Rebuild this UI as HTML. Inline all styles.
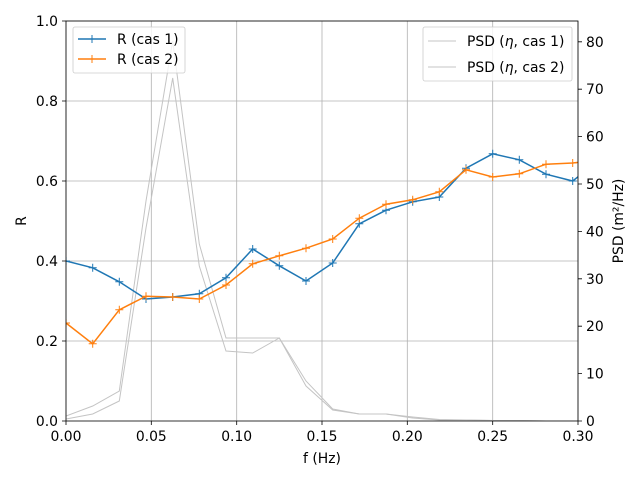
<!DOCTYPE html>
<html><head><meta charset="utf-8"><style>
body{margin:0;background:#fff}
text{font-family:"DejaVu Sans","Liberation Sans",sans-serif;font-size:13.9px;fill:#000}
</style></head><body>
<svg width="640" height="480" viewBox="0 0 640 480" xmlns="http://www.w3.org/2000/svg">
<defs>
<clipPath id="c"><rect x="66" y="21" width="512" height="400"/></clipPath>
<path id="m" d="M-4,0H4M0,-4V4" stroke-width="1"/>
</defs>
<rect width="640" height="480" fill="#fff"/>
<g stroke="#b0b0b0" stroke-width="0.8">
<line x1="66" y1="21" x2="66" y2="421"/><line x1="151.3" y1="21" x2="151.3" y2="421"/><line x1="236.7" y1="21" x2="236.7" y2="421"/><line x1="322" y1="21" x2="322" y2="421"/><line x1="407.3" y1="21" x2="407.3" y2="421"/><line x1="492.7" y1="21" x2="492.7" y2="421"/><line x1="578" y1="21" x2="578" y2="421"/>
<line x1="66" y1="341" x2="578" y2="341"/><line x1="66" y1="261" x2="578" y2="261"/><line x1="66" y1="181" x2="578" y2="181"/><line x1="66" y1="101" x2="578" y2="101"/><line x1="66" y1="21" x2="578" y2="21"/>
</g>
<g clip-path="url(#c)" fill="none">
<polyline stroke="#c4c4c4" stroke-width="1" points="66,416 92.7,406 119.3,391 146,201 172.7,41 199.3,244 226,338 252.7,338 279.3,338 306,381 332.7,409 359.3,414 386,414 412.7,417 439.3,419.5 466,420 492.7,420.5 519.3,420.5 546,421 578,421"/>
<polyline stroke="#c4c4c4" stroke-width="1" points="66,419 92.7,414 119.3,401 146,228 172.7,78 199.3,266 226,351 252.7,353 279.3,338 306,386 332.7,410 359.3,414 386,414 412.7,418 439.3,420 466,420 492.7,420.5 519.3,420.5 546,421 578,421"/>
<g stroke="#1f77b4" stroke-width="1.5">
<polyline points="66,261 92.7,267.8 119.3,281.8 146,299 172.7,297 199.3,293.8 226,277.8 252.7,249 279.3,265.8 306,281 332.7,263 359.3,223.8 386,210.2 412.7,201.8 439.3,197 466,168.2 492.7,153.8 519.3,159.8 546,174.2 572.7,181 599.3,160"/>
<g><use href="#m" x="66" y="261"/><use href="#m" x="92.7" y="267.8"/><use href="#m" x="119.3" y="281.8"/><use href="#m" x="146" y="299"/><use href="#m" x="172.7" y="297"/><use href="#m" x="199.3" y="293.8"/><use href="#m" x="226" y="277.8"/><use href="#m" x="252.7" y="249"/><use href="#m" x="279.3" y="265.8"/><use href="#m" x="306" y="281"/><use href="#m" x="332.7" y="263"/><use href="#m" x="359.3" y="223.8"/><use href="#m" x="386" y="210.2"/><use href="#m" x="412.7" y="201.8"/><use href="#m" x="439.3" y="197"/><use href="#m" x="466" y="168.2"/><use href="#m" x="492.7" y="153.8"/><use href="#m" x="519.3" y="159.8"/><use href="#m" x="546" y="174.2"/><use href="#m" x="572.7" y="181"/></g>
</g>
<g stroke="#ff7f0e" stroke-width="1.5">
<polyline points="66,323 92.7,343.8 119.3,309.8 146,296.2 172.7,297 199.3,299 226,285 252.7,263.8 279.3,255.8 306,248.2 332.7,239 359.3,218.2 386,204.2 412.7,199.8 439.3,191.8 466,169.8 492.7,177 519.3,173.8 546,164.2 572.7,163 599.3,160"/>
<g><use href="#m" x="66" y="323"/><use href="#m" x="92.7" y="343.8"/><use href="#m" x="119.3" y="309.8"/><use href="#m" x="146" y="296.2"/><use href="#m" x="172.7" y="297"/><use href="#m" x="199.3" y="299"/><use href="#m" x="226" y="285"/><use href="#m" x="252.7" y="263.8"/><use href="#m" x="279.3" y="255.8"/><use href="#m" x="306" y="248.2"/><use href="#m" x="332.7" y="239"/><use href="#m" x="359.3" y="218.2"/><use href="#m" x="386" y="204.2"/><use href="#m" x="412.7" y="199.8"/><use href="#m" x="439.3" y="191.8"/><use href="#m" x="466" y="169.8"/><use href="#m" x="492.7" y="177"/><use href="#m" x="519.3" y="173.8"/><use href="#m" x="546" y="164.2"/><use href="#m" x="572.7" y="163"/></g>
</g>
</g>
<rect x="66" y="21" width="512" height="400" fill="none" stroke="#000" stroke-width="0.8"/>
<g stroke="#000" stroke-width="0.8">
<path d="M66,421v4M151.3,421v4M236.7,421v4M322,421v4M407.3,421v4M492.7,421v4M578,421v4"/>
<path d="M66,421h-4M66,341h-4M66,261h-4M66,181h-4M66,101h-4M66,21h-4"/>
<path d="M578,421h4M578,373.6h4M578,326.2h4M578,278.8h4M578,231.4h4M578,184h4M578,136.6h4M578,89.2h4M578,41.8h4"/>
</g>
<g text-anchor="middle">
<text x="66" y="441">0.00</text><text x="151.3" y="441">0.05</text><text x="236.7" y="441">0.10</text><text x="322" y="441">0.15</text><text x="407.3" y="441">0.20</text><text x="492.7" y="441">0.25</text><text x="578" y="441">0.30</text>
<text x="322" y="463">f (Hz)</text>
</g>
<g text-anchor="end">
<text x="58" y="426">0.0</text><text x="58" y="346">0.2</text><text x="58" y="266">0.4</text><text x="58" y="186">0.6</text><text x="58" y="106">0.8</text><text x="58" y="26">1.0</text>
</g>
<g>
<text x="586" y="426">0</text><text x="586" y="378.6">10</text><text x="586" y="331.2">20</text><text x="586" y="283.8">30</text><text x="586" y="236.4">40</text><text x="586" y="189">50</text><text x="586" y="141.6">60</text><text x="586" y="94.2">70</text><text x="586" y="46.8">80</text>
</g>
<text transform="translate(26,221) rotate(-90)" text-anchor="middle">R</text>
<text transform="translate(623,221) rotate(-90)" text-anchor="middle">PSD (m²/Hz)</text>
<rect x="73" y="27" width="112" height="46" rx="2" fill="#fff" fill-opacity="0.8" stroke="#ccc" stroke-width="0.8"/>
<line x1="78" y1="39" x2="106" y2="39" stroke="#1f77b4" stroke-width="1.5"/><use href="#m" x="92" y="39" stroke="#1f77b4" stroke-width="1.5"/>
<text x="117" y="44">R (cas 1)</text>
<line x1="78" y1="59" x2="106" y2="59" stroke="#ff7f0e" stroke-width="1.5"/><use href="#m" x="92" y="59" stroke="#ff7f0e" stroke-width="1.5"/>
<text x="117" y="64">R (cas 2)</text>
<rect x="423" y="27" width="149" height="54" rx="2" fill="#fff" fill-opacity="0.8" stroke="#ccc" stroke-width="0.8"/>
<line x1="428" y1="41" x2="456" y2="41" stroke="#c4c4c4" stroke-width="1"/>
<text x="467" y="46">PSD (<tspan font-style="italic">η</tspan>, cas 1)</text>
<line x1="428" y1="67" x2="456" y2="67" stroke="#c4c4c4" stroke-width="1"/>
<text x="467" y="72">PSD (<tspan font-style="italic">η</tspan>, cas 2)</text>
</svg>
</body></html>
